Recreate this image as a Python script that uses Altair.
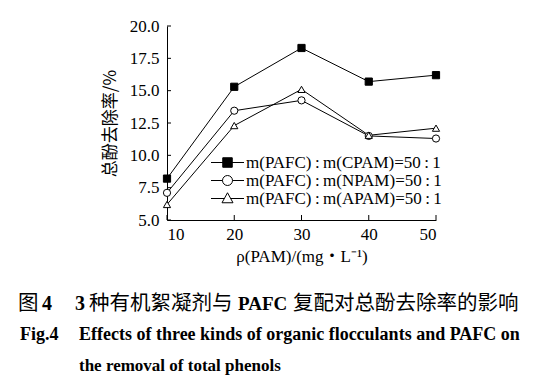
import altair as alt
import pandas as pd

# ---- data ----
dose = [10, 20, 30, 40, 50]
cpam = [8.2, 15.3, 18.3, 15.7, 16.2]
npam = [7.1, 13.45, 14.25, 11.5, 11.3]
apam = [6.2, 12.3, 15.1, 11.55, 12.1]
series_names = ["m(PAFC)\u2009:\u2009m(CPAM)=50\u2009:\u20091",
                "m(PAFC)\u2009:\u2009m(NPAM)=50\u2009:\u20091",
                "m(PAFC)\u2009:\u2009m(APAM)=50\u2009:\u20091"]
y_ticks = [5.0, 7.5, 10.0, 12.5, 15.0, 17.5, 20.0]
x_ticks = [10, 20, 30, 40, 50]

rows = []
for name, vals in zip(series_names, [cpam, npam, apam]):
    for d, v in zip(dose, vals):
        rows.append({"dose": d, "rate": v, "series": name})
df = pd.DataFrame(rows)

W, H = 269, 194
SERIF = "Liberation Serif, Noto Sans CJK SC"
CJK = "Noto Sans CJK SC"

xs = alt.Scale(domain=[10, 50], nice=False)
ys = alt.Scale(domain=[5, 20], nice=False)
x_axis = alt.Axis(values=x_ticks, title="ρ(PAM)/(mg・L⁻¹)", tickSize=0,
                  labelPadding=6, titlePadding=6)
y_axis = alt.Axis(values=y_ticks, format=".1f", title="总酚去除率/%", tickSize=0,
                  labelPadding=8, titlePadding=10, titleFont=CJK)

fill_range = ["black", "white", "white"]
shape_range = ["square", "circle", "triangle-up"]

# legend symbols: line with marker in middle (unit = marker half size)
leg_paths = [
    "M-3.3,0H3.3M-0.95,-0.95H0.95V0.95H-0.95Z",
    "M-3.3,0H-1M1,0H3.3M-1,0A1,1 0 1,0 1,0A1,1 0 1,0 -1,0Z",
    "M-3.3,0H-0.62M0.62,0H3.3M0,-1.15L1.1,0.85H-1.1Z",
]

base = alt.Chart(df)

lines = base.mark_line(color="black", strokeWidth=1).encode(
    x=alt.X("dose:Q", scale=xs, axis=x_axis),
    y=alt.Y("rate:Q", scale=ys, axis=y_axis),
    detail="series:N",
)

points = base.mark_point(filled=True, stroke="black", strokeWidth=1, size=52, opacity=1).encode(
    x=alt.X("dose:Q", scale=xs, axis=x_axis),
    y=alt.Y("rate:Q", scale=ys, axis=y_axis),
    shape=alt.Shape("series:N", scale=alt.Scale(domain=series_names, range=shape_range), legend=None),
    fill=alt.Fill("series:N", scale=alt.Scale(domain=series_names, range=fill_range), legend=None),
)

leg = dict(title=None, orient="none", legendX=52, legendY=128,
           symbolStrokeColor="black", symbolStrokeWidth=1,
           labelFont=SERIF, labelFontSize=17, labelColor="black", labelLimit=400,
           labelOffset=10, rowPadding=0, symbolOpacity=1)

legend_layer = base.transform_filter("false").mark_point(
    filled=True, strokeWidth=1, size=14, opacity=1
).encode(
    x=alt.X("dose:Q", scale=xs, axis=x_axis),
    y=alt.Y("rate:Q", scale=ys, axis=y_axis),
    shape=alt.Shape("series:N", scale=alt.Scale(domain=series_names, range=leg_paths),
                    legend=alt.Legend(**leg)),
    fill=alt.Fill("series:N", scale=alt.Scale(domain=series_names, range=fill_range),
                  legend=alt.Legend(**leg)),
    stroke=alt.Stroke("series:N", scale=alt.Scale(domain=series_names, range=["black"] * 3),
                      legend=alt.Legend(**leg)),
)

tick_df = pd.DataFrame({"xv": x_ticks})
ytick_df = pd.DataFrame({"yv": y_ticks})
xticks = alt.Chart(tick_df).mark_rule(color="black", strokeWidth=1).encode(
    x=alt.X("xv:Q", scale=xs, axis=x_axis), y=alt.value(H), y2=alt.value(H - 5))
yticks = alt.Chart(ytick_df).mark_rule(color="black", strokeWidth=1).encode(
    y=alt.Y("yv:Q", scale=ys, axis=y_axis), x=alt.value(0), x2=alt.value(4))

def txt(s, x, y, size, weight="normal", font=SERIF, align="left"):
    return alt.Chart(pd.DataFrame({"t": [s]})).mark_text(
        align=align, baseline="middle", fontSize=size, fontWeight=weight, font=font, color="black"
    ).encode(text="t:N", x=alt.value(x), y=alt.value(y))

OX = 167
Y1 = 278
caption = [
    txt("图", 18 - OX, Y1, 20.5, "normal", CJK),
    txt("4", 42 - OX, Y1, 20, "bold"),
    txt("3", 75 - OX, Y1, 20, "bold"),
    txt("种有机絮凝剂与", 89 - OX, Y1, 20.5, "normal", CJK),
    txt("PAFC", 238 - OX, Y1, 19, "bold"),
    txt("复配对总酚去除率的影响", 293 - OX, Y1, 20.5, "normal", CJK),
    txt("Fig.4", 20 - OX, 309, 18, "bold"),
    txt("Effects of three kinds of organic flocculants and PAFC on", 79 - OX, 309, 18, "bold"),
    txt("the removal of total phenols", 79 - OX, 340, 17, "bold"),
]

chart = alt.layer(lines, xticks, yticks, points, legend_layer, *caption).resolve_scale(
    shape="independent", fill="independent", stroke="independent"
).properties(
    width=W, height=H,
    background="white",
    autosize=alt.AutoSizeParams(type="none"),
    padding={"left": 159, "top": 18, "right": 103, "bottom": 163},
).configure_view(stroke=None).configure_axis(
    domainColor="black", domainWidth=1, labelFont=SERIF, labelFontSize=17,
    labelColor="black", titleFont=SERIF, titleFontSize=17, titleColor="black",
    titleFontWeight="normal", grid=False,
)

chart.save("out.html", embed_options={"renderer": "svg", "actions": False})
